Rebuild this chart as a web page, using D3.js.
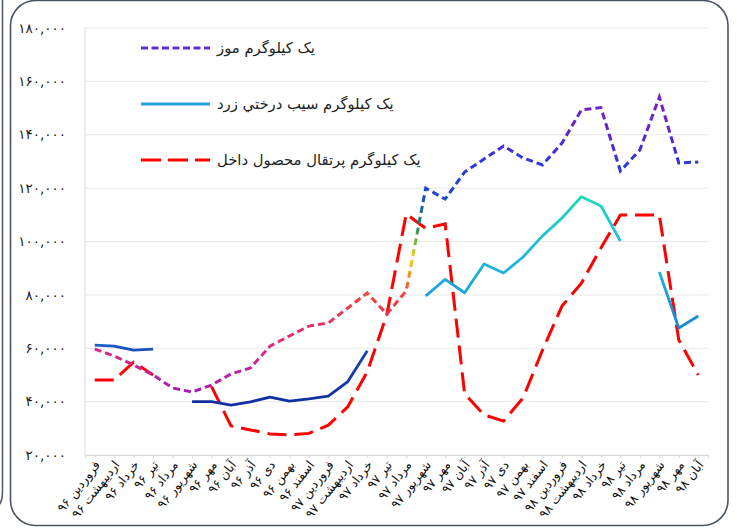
<!DOCTYPE html>
<html>
<head>
<meta charset="utf-8">
<script src="https://cdn.jsdelivr.net/npm/d3@7"></script>
<style>
  html, body { margin: 0; padding: 0; background: #ffffff; }
  svg { display: block; }
</style>
</head>
<body>
<svg id="chart" width="737" height="528"></svg>
<script>
const categories = [
  "فروردین ۹۶","اردیبهشت ۹۶","خرداد ۹۶","تیر ۹۶","مرداد ۹۶","شهریور ۹۶",
  "مهر ۹۶","آبان ۹۶","آذر ۹۶","دی ۹۶","بهمن ۹۶","اسفند ۹۶",
  "فروردین ۹۷","اردیبهشت ۹۷","خرداد ۹۷","تیر ۹۷","مرداد ۹۷","شهریور ۹۷",
  "مهر ۹۷","آبان ۹۷","آذر ۹۷","دی ۹۷","بهمن ۹۷","اسفند ۹۷",
  "فروردین ۹۸","اردیبهشت ۹۸","خرداد ۹۸","تیر ۹۸","مرداد ۹۸","شهریور ۹۸",
  "مهر ۹۸","آبان ۹۸"
];

const seriesNames = [
  "یک کیلوگرم موز",
  "یک کیلوگرم سیب درختي زرد",
  "یک کیلوگرم پرتقال محصول داخل"
];

const bananaValues = [
  59700, 57100, 53700, 50000, 45100, 43600, 46200, 50400, 52600, 60800,
  64600, 68300, 69500, 75100, 80700, 72800, 81500, 120000, 115900, 126000,
  130900, 135800, 131300, 128700, 136900, 149300, 150200, 126400, 134300, 154100,
  129400, 129800
];

const appleValues = [
  61200, 60800, 59300, 59700, null, 40000, 40000, 38700, 39900, 41700,
  40200, 41000, 42100, 47500, 59100, null, null, 79600, 85800, 80800,
  91600, 88200, 94200, 102100, 108800, 116800, 113300, 100200, null, 88600,
  67600, 72100
];

const orangeValues = [
  48100, 48100, 54800, 50000, null, null, 45600, 30900, 29400, 27900,
  27500, 28100, 31200, 38100, 51200, 72500, 110300, 104900, 106600, 42900,
  35000, 32700, 41400, 59300, 75800, 84400, 97600, 109900, 109900, 109900,
  63100, 50000
];

const yTicks = [20000, 40000, 60000, 80000, 100000, 120000, 140000, 160000, 180000];
const yTickLabels = ["۲۰,۰۰۰","۴۰,۰۰۰","۶۰,۰۰۰","۸۰,۰۰۰","۱۰۰,۰۰۰","۱۲۰,۰۰۰","۱۴۰,۰۰۰","۱۶۰,۰۰۰","۱۸۰,۰۰۰"];

const svg = d3.select("#chart");
const FONT = "'DejaVu Sans', sans-serif";

const plot = { left: 85, right: 708, top: 28, bottom: 455 };

const x = d3.scalePoint().domain(categories).range([plot.left, plot.right]).padding(0.5);
const y = d3.scaleLinear().domain([20000, 180000]).range([plot.bottom, plot.top]);

// outer frames
svg.append("path")
  .attr("d", "M2.5,0 L2.5,492 Q2.5,506 -6,508")
  .attr("fill", "none").attr("stroke", "#4b5563").attr("stroke-width", 1.5);
svg.append("rect")
  .attr("x", 10.5).attr("y", 0.5).attr("width", 717.5).attr("height", 525)
  .attr("rx", 25).attr("ry", 25)
  .attr("fill", "none").attr("stroke", "#4b5563").attr("stroke-width", 1.6);

// gradients
const defs = svg.append("defs");
function vGrad(id, y1, y2, stops) {
  const g = defs.append("linearGradient").attr("id", id)
    .attr("gradientUnits", "userSpaceOnUse")
    .attr("x1", 0).attr("x2", 0).attr("y1", y1).attr("y2", y2);
  stops.forEach(([py, c]) => {
    g.append("stop").attr("offset", (py - y1) / (y2 - y1)).attr("stop-color", c);
  });
}
vGrad("gBanana", 90, 400, [
  [97, "#7b1fc6"], [135, "#5a25d2"], [165, "#2a3ae0"], [195, "#1e48c8"],
  [212, "#1e6a96"], [228, "#2a8a60"], [245, "#90c030"], [258, "#f0d820"],
  [275, "#f5901e"], [292, "#f04838"], [320, "#e8305e"], [350, "#d82a84"],
  [392, "#a81cb4"]
]);
vGrad("gApple", 190, 410, [
  [197, "#1ed8bc"], [235, "#1ec4d4"], [275, "#1eaee0"], [300, "#1c9ad8"],
  [328, "#1e86d2"], [345, "#1a5cc6"], [356, "#1640b2"], [400, "#1030a0"]
]);

// gridlines
const grid = svg.append("g");
yTicks.forEach(t => {
  grid.append("line")
    .attr("x1", plot.left).attr("x2", plot.right)
    .attr("y1", y(t)).attr("y2", y(t))
    .attr("stroke", "#e8e8e8").attr("stroke-width", 1);
});

// y axis line
svg.append("line")
  .attr("x1", plot.left).attr("x2", plot.left)
  .attr("y1", plot.top).attr("y2", plot.bottom)
  .attr("stroke", "#d9d9d9").attr("stroke-width", 1);

// y labels
svg.append("g").selectAll("text").data(yTicks).join("text")
  .attr("x", 66).attr("y", d => y(d))
  .attr("dy", "0.35em")
  .attr("text-anchor", "end")
  .attr("font-family", FONT).attr("font-size", 13.5).attr("fill", "#222")
  .text((d, i) => yTickLabels[i]);

// x axis
const xAxis = d3.axisBottom(x).tickSize(3).tickFormat(() => "");
const xg = svg.append("g").attr("transform", `translate(0,${plot.bottom})`).call(xAxis);
xg.select(".domain").attr("stroke", "#d9d9d9");
xg.selectAll(".tick line").attr("stroke", "#d9d9d9");

svg.append("g").selectAll("text").data(categories).join("text")
  .attr("transform", d => `translate(${x(d) + 6},${plot.bottom + 10}) rotate(-52)`)
  .attr("text-anchor", "end")
  .attr("font-family", FONT).attr("font-size", 12.5).attr("fill", "#111")
  .text(d => d);

// lines
const line = d3.line()
  .defined(d => d != null)
  .x((d, i) => x(categories[i]))
  .y(d => y(d));

svg.append("path").datum(orangeValues)
  .attr("d", line).attr("fill", "none")
  .attr("stroke", "#ff0000").attr("stroke-width", 3)
  .attr("stroke-dasharray", "19,8");

svg.append("path").datum(appleValues)
  .attr("d", line).attr("fill", "none")
  .attr("stroke", "url(#gApple)").attr("stroke-width", 2.8)
  .attr("stroke-linejoin", "round");

svg.append("path").datum(bananaValues)
  .attr("d", line).attr("fill", "none")
  .attr("stroke", "url(#gBanana)").attr("stroke-width", 3)
  .attr("stroke-dasharray", "7,4");

// legend
const legendColors = ["#6a2bc8", "#1aa2d8", "#ff0000"];
const legendDash = ["7,3.5", null, "20,7"];
const legendY = [48, 104, 160];
const lg = svg.append("g");
seriesNames.forEach((name, i) => {
  const l = lg.append("line")
    .attr("x1", 141).attr("x2", 210)
    .attr("y1", legendY[i]).attr("y2", legendY[i])
    .attr("stroke", legendColors[i]).attr("stroke-width", 3);
  if (legendDash[i]) l.attr("stroke-dasharray", legendDash[i]);
  lg.append("text")
    .attr("x", 217).attr("y", legendY[i])
    .attr("dy", "0.35em")
    .attr("text-anchor", "start")
    .attr("font-family", FONT).attr("font-size", 14.8).attr("fill", "#222")
    .text(name);
});
</script>
</body>
</html>
